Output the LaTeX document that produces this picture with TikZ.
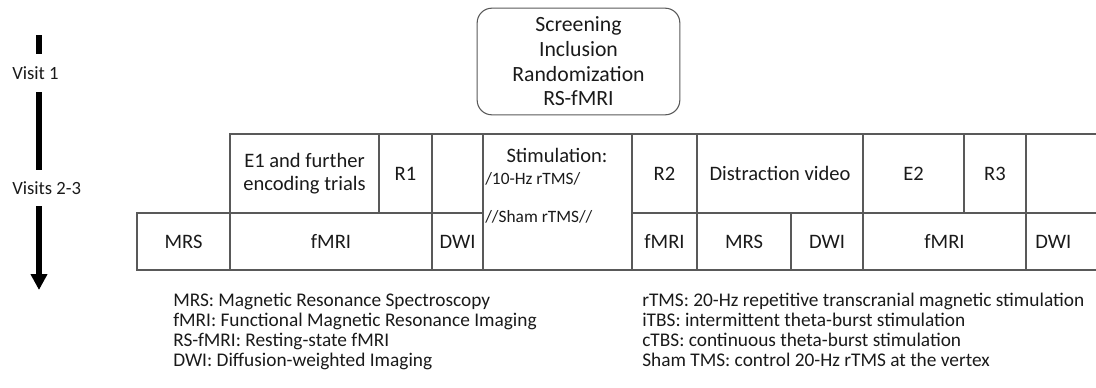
\documentclass[tikz,border=0pt]{standalone}
\usepackage{fontspec}
\setmainfont{Carlito}
\usetikzlibrary{arrows.meta}
\definecolor{txt}{HTML}{1A1A1A}
\definecolor{grid}{HTML}{595959}
\newcommand{\mycell}[6]{%
  \draw[cellline] (#1,#2) rectangle (#3,#4);
  \node[celltext] (#5) at ({(#1+#3)/2},{(#2+#4)/2}) {#6};}
\begin{document}
\begin{tikzpicture}[x=0.75pt,y=-0.75pt,
  cellline/.style={draw=grid, line width=0.8pt},
  celltext/.style={text=txt, font=\fontsize{15.4}{17.5}\selectfont, align=center, inner sep=0pt},
  small/.style={text=txt, font=\fontsize{13}{15}\selectfont, inner sep=0pt, anchor=west},
  legend/.style={text=txt, font=\fontsize{14.5}{15}\selectfont, align=left, anchor=north west, inner sep=0pt},
  visit/.style={text=txt, font=\fontsize{14}{16}\selectfont, anchor=west, inner sep=0pt},
  timeline/.style={line width=4.1pt, draw=black},
  startbox/.style={draw=grid, line width=0.8pt, rounded corners=11pt, minimum width=152pt, minimum height=80pt, align=center, text=txt, font=\fontsize{16.3}{18.5}\selectfont, inner sep=0pt}
]
\useasboundingbox (0,0) rectangle (1096,387);

% timeline
\coordinate (a1) at (39,35);
\coordinate (a2) at (39,54);
\coordinate (a3) at (39,92);
\coordinate (a4) at (39,170);
\coordinate (a5) at (39,206);
\coordinate (a6) at (39,290);
\draw[timeline] (a1) -- (a2);
\draw[timeline] (a3) -- (a4);
\draw[timeline, -{Triangle[width=12pt,length=12pt]}] (a5) -- (a6);
\node[visit] (v1) at (12,73) {Visit 1};
\node[visit] (v2) at (12,188) {Visits 2-3};

% start box
\node[startbox] (start) at (578.5,61.5) {Screening\\Inclusion\\Randomization\\RS-fMRI};

% top row
\mycell{230}{134}{379}{213}{e1}{E1 and further\\encoding trials}
\mycell{379}{134}{432}{213}{r1}{R1}
\mycell{432}{134}{483}{213}{blank1}{}
\mycell{632}{134}{697}{213}{r2}{R2}
\mycell{697}{134}{863}{213}{dv}{Distraction video}
\mycell{863}{134}{964}{213}{e2}{E2}
\mycell{964}{134}{1026}{213}{r3}{R3}
\draw[cellline] (1026,134) -- (1096,134);
\draw[cellline] (1026,213) -- (1096,213);

% stimulation
\draw[cellline] (483,134) rectangle (632,270);
\node[celltext] (stim) at (557,155) {Stimulation:};
\node[small] (tms) at (485,179) {/10-Hz rTMS/};
\node[small] (sham) at (485,217) {//Sham rTMS//};

% bottom row
\mycell{137}{213}{230}{270}{mrs1}{MRS}
\mycell{230}{213}{432}{270}{fmri1}{fMRI}
\mycell{432}{213}{483}{270}{dwi1}{DWI}
\mycell{632}{213}{697}{270}{fmri2}{fMRI}
\mycell{697}{213}{791}{270}{mrs2}{MRS}
\mycell{791}{213}{863}{270}{dwi2}{DWI}
\mycell{863}{213}{1026}{270}{fmri3}{fMRI}
\draw[cellline] (1026,134) -- (1026,270);
\draw[cellline] (1026,270) -- (1096,270);
\node[celltext, anchor=west] (dwi3) at (1035,242) {DWI};

% legends
\node[legend] (legl) at (173,293) {MRS: Magnetic Resonance Spectroscopy\\fMRI: Functional Magnetic Resonance Imaging\\RS-fMRI: Resting-state fMRI\\DWI: Diffusion-weighted Imaging};
\node[legend] (legr) at (642,293) {rTMS: 20-Hz repetitive transcranial magnetic stimulation\\iTBS: intermittent theta-burst stimulation\\cTBS: continuous theta-burst stimulation\\Sham TMS: control 20-Hz rTMS at the vertex};
\end{tikzpicture}
\end{document}
